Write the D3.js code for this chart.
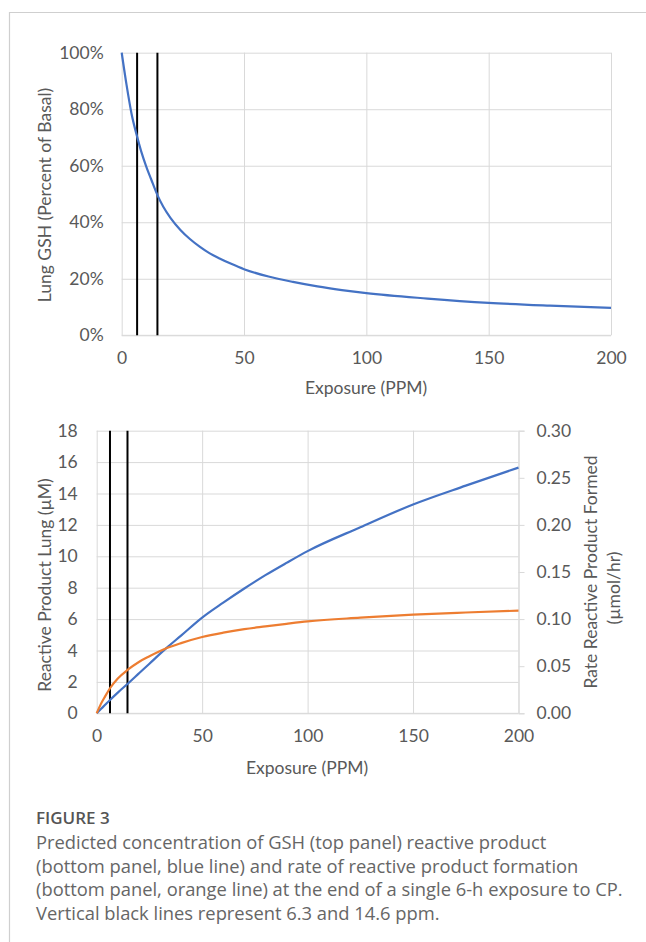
<!DOCTYPE html>
<html>
<head>
<meta charset="utf-8">
<script src="https://cdn.jsdelivr.net/npm/d3@7"></script>
<style>
  body { margin: 0; background: #fff; }
  svg { display: block; }
  .tick line { stroke: #d9d9d9; }
  .domain { stroke: #d9d9d9; }
</style>
</head>
<body>
<svg id="fig" width="646" height="942"></svg>
<script>
// top panel: lung GSH, percent of basal
var gshPpm = [0, 2, 4, 6.3, 8, 10, 12, 14.6, 17, 20, 24, 28, 32, 36, 40, 45, 50, 60, 70, 80, 90, 100, 125, 150, 175, 200];
var gshPct = [100, 88.5, 78.5, 70.3, 65, 59.8, 55.3, 49.6, 45.5, 41.5, 37.3, 34, 31.3, 29, 27.2, 25.2, 23.4, 20.8, 18.9, 17.3, 16, 14.9, 13, 11.5, 10.5, 9.7];

// bottom panel: reactive product (left axis) and rate of formation (right axis)
var rpPpm = [0, 2, 4, 6.3, 10, 14.6, 20, 25, 33, 40, 50, 60, 70, 80, 90, 100, 125, 150, 175, 200];
var rpLung = [0, 0.27, 0.54, 0.85, 1.32, 1.87, 2.54, 3.16, 4.15, 4.95, 6.1, 7.05, 7.95, 8.8, 9.58, 10.33, 11.85, 13.3, 14.5, 15.65];
var rpRate = [0, 0.010, 0.018, 0.0266, 0.037, 0.046, 0.0545, 0.0605, 0.069, 0.0745, 0.081, 0.0856, 0.0893, 0.0922, 0.095, 0.0976, 0.1015, 0.1047, 0.107, 0.109];

var markers = [6.3, 14.6];
var xTicks = [0, 50, 100, 150, 200];
var gshTicks = [0, 0.2, 0.4, 0.6, 0.8, 1.0];
var lungTicks = [0, 2, 4, 6, 8, 10, 12, 14, 16, 18];
var rateTicks = [0, 0.05, 0.10, 0.15, 0.20, 0.25, 0.30];

var captionTitle = "FIGURE 3";
var captionLines = [
    "Predicted concentration of GSH (top panel) reactive product",
    "(bottom panel, blue line) and rate of reactive product formation",
    "(bottom panel, orange line) at the end of a single 6-h exposure to CP.",
    "Vertical black lines represent 6.3 and 14.6 ppm."
];

var blue = "#4472c4", orange = "#ed7d31", grid = "#d9d9d9", txt = "#595959";
var chartFont = "Lato, 'Open Sans', sans-serif";
var fs = 17.5;

var svg = d3.select("#fig");

// page frame
svg.append("path")
    .attr("d", "M9.5,942V12.5H646")
    .attr("fill", "none")
    .attr("stroke", "#cfcfcf")
    .attr("stroke-width", 1.2);

function styleText(g) {
    g.selectAll("text").attr("fill", txt).attr("font-size", fs).attr("font-family", chartFont);
}

// ---------- top panel ----------
var x1 = d3.scaleLinear().domain([0, 200]).range([121.7, 611]);
var y1 = d3.scaleLinear().domain([0, 1]).range([335.3, 52.7]);

var gTop = svg.append("g").attr("font-family", chartFont);

gTop.append("g")
    .attr("transform", "translate(" + x1.range()[0] + ",0)")
    .call(d3.axisLeft(y1).tickValues(gshTicks).tickFormat(d3.format(".0%"))
        .tickSize(-(x1.range()[1] - x1.range()[0])).tickPadding(18))
    .call(function (g) {
        g.select(".domain").remove();
        styleText(g);
    });

gTop.append("g")
    .attr("transform", "translate(0," + y1.range()[0] + ")")
    .call(d3.axisBottom(x1).tickValues(xTicks)
        .tickSize(-(y1.range()[0] - y1.range()[1])).tickPadding(16))
    .call(function (g) {
        g.select(".domain").remove();
        styleText(g);
    });

gTop.append("line")
    .attr("x1", x1(0)).attr("x2", x1(200))
    .attr("y1", y1(0)).attr("y2", y1(0))
    .attr("stroke", grid);

gTop.selectAll(".marker")
    .data(markers)
    .enter().append("line")
    .attr("x1", function (d) { return x1(d); })
    .attr("x2", function (d) { return x1(d); })
    .attr("y1", y1(1)).attr("y2", y1(0))
    .attr("stroke", "#000")
    .attr("stroke-width", 2);

gTop.append("path")
    .datum(d3.range(gshPpm.length))
    .attr("fill", "none")
    .attr("stroke", blue)
    .attr("stroke-width", 2.2)
    .attr("d", d3.line()
        .curve(d3.curveMonotoneX)
        .x(function (i) { return x1(gshPpm[i]); })
        .y(function (i) { return y1(gshPct[i] / 100); }));

gTop.append("text")
    .attr("transform", "translate(45,195) rotate(-90)")
    .attr("text-anchor", "middle")
    .attr("dy", "0.35em")
    .attr("fill", txt)
    .attr("font-size", fs)
    .text("Lung GSH (Percent of Basal)");

gTop.append("text")
    .attr("x", 366)
    .attr("y", 388)
    .attr("text-anchor", "middle")
    .attr("dy", "0.35em")
    .attr("fill", txt)
    .attr("font-size", fs)
    .text("Exposure (PPM)");

// ---------- bottom panel ----------
var x2 = d3.scaleLinear().domain([0, 200]).range([96.7, 518.5]);
var y2 = d3.scaleLinear().domain([0, 18]).range([713.3, 430.7]);
var y2r = d3.scaleLinear().domain([0, 0.30]).range([713.3, 430.7]);

var gBot = svg.append("g").attr("font-family", chartFont);

gBot.append("g")
    .attr("transform", "translate(" + x2.range()[0] + ",0)")
    .call(d3.axisLeft(y2).tickValues(lungTicks)
        .tickSize(-(x2.range()[1] - x2.range()[0])).tickPadding(19))
    .call(function (g) {
        g.select(".domain").remove();
        styleText(g);
    });

gBot.append("g")
    .attr("transform", "translate(0," + y2.range()[0] + ")")
    .call(d3.axisBottom(x2).tickValues(xTicks)
        .tickSize(-(y2.range()[0] - y2.range()[1])).tickPadding(16))
    .call(function (g) {
        g.select(".domain").remove();
        styleText(g);
    });

gBot.append("g")
    .attr("transform", "translate(" + x2.range()[1] + ",0)")
    .call(d3.axisRight(y2r).tickValues(rateTicks).tickFormat(d3.format(".2f"))
        .tickSizeOuter(0).tickSize(6).tickPadding(12))
    .call(function (g) {
        g.select(".domain").attr("stroke", "#bfbfbf");
        g.selectAll(".tick line").attr("stroke", "#bfbfbf");
        styleText(g);
    });

gBot.append("line")
    .attr("x1", x2(0)).attr("x2", x2(200))
    .attr("y1", y2(0)).attr("y2", y2(0))
    .attr("stroke", grid);

gBot.selectAll(".marker")
    .data(markers)
    .enter().append("line")
    .attr("x1", function (d) { return x2(d); })
    .attr("x2", function (d) { return x2(d); })
    .attr("y1", y2(18)).attr("y2", y2(0))
    .attr("stroke", "#000")
    .attr("stroke-width", 2);

gBot.append("path")
    .datum(d3.range(rpPpm.length))
    .attr("fill", "none")
    .attr("stroke", blue)
    .attr("stroke-width", 2.2)
    .attr("d", d3.line()
        .curve(d3.curveMonotoneX)
        .x(function (i) { return x2(rpPpm[i]); })
        .y(function (i) { return y2(rpLung[i]); }));

gBot.append("path")
    .datum(d3.range(rpPpm.length))
    .attr("fill", "none")
    .attr("stroke", orange)
    .attr("stroke-width", 2.2)
    .attr("d", d3.line()
        .curve(d3.curveMonotoneX)
        .x(function (i) { return x2(rpPpm[i]); })
        .y(function (i) { return y2r(rpRate[i]); }));

gBot.append("text")
    .attr("transform", "translate(45,585) rotate(-90)")
    .attr("text-anchor", "middle")
    .attr("dy", "0.35em")
    .attr("fill", txt)
    .attr("font-size", fs)
    .text("Reactive Product Lung (µM)");

gBot.append("text")
    .attr("transform", "translate(591,572) rotate(-90)")
    .attr("text-anchor", "middle")
    .attr("dy", "0.35em")
    .attr("fill", txt)
    .attr("font-size", fs)
    .text("Rate Reactive Product Formed");

gBot.append("text")
    .attr("transform", "translate(614,588) rotate(-90)")
    .attr("text-anchor", "middle")
    .attr("dy", "0.35em")
    .attr("fill", txt)
    .attr("font-size", fs)
    .text("(µmol/hr)");

gBot.append("text")
    .attr("x", 307)
    .attr("y", 768)
    .attr("text-anchor", "middle")
    .attr("dy", "0.35em")
    .attr("fill", txt)
    .attr("font-size", fs)
    .text("Exposure (PPM)");

// ---------- caption ----------
var cap = svg.append("g").attr("font-family", "'Open Sans', sans-serif");

cap.append("text")
    .attr("x", 36)
    .attr("y", 824)
    .attr("fill", "#555")
    .attr("font-size", 17)
    .attr("font-weight", 600)
    .text(captionTitle);

var lines = cap.selectAll(".cap")
    .data(captionLines)
    .enter().append("text")
    .attr("class", "cap")
    .attr("x", 36)
    .attr("y", function (d, i) { return 849 + i * 23.7; })
    .attr("fill", "#666")
    .attr("font-size", 16)
    .text(function (d) { return d; });

// fit caption size to the widest line (ends near x=623)
var w = lines.nodes()[2].getComputedTextLength();
lines.attr("font-size", 16 * 587 / w);
</script>
</body>
</html>
